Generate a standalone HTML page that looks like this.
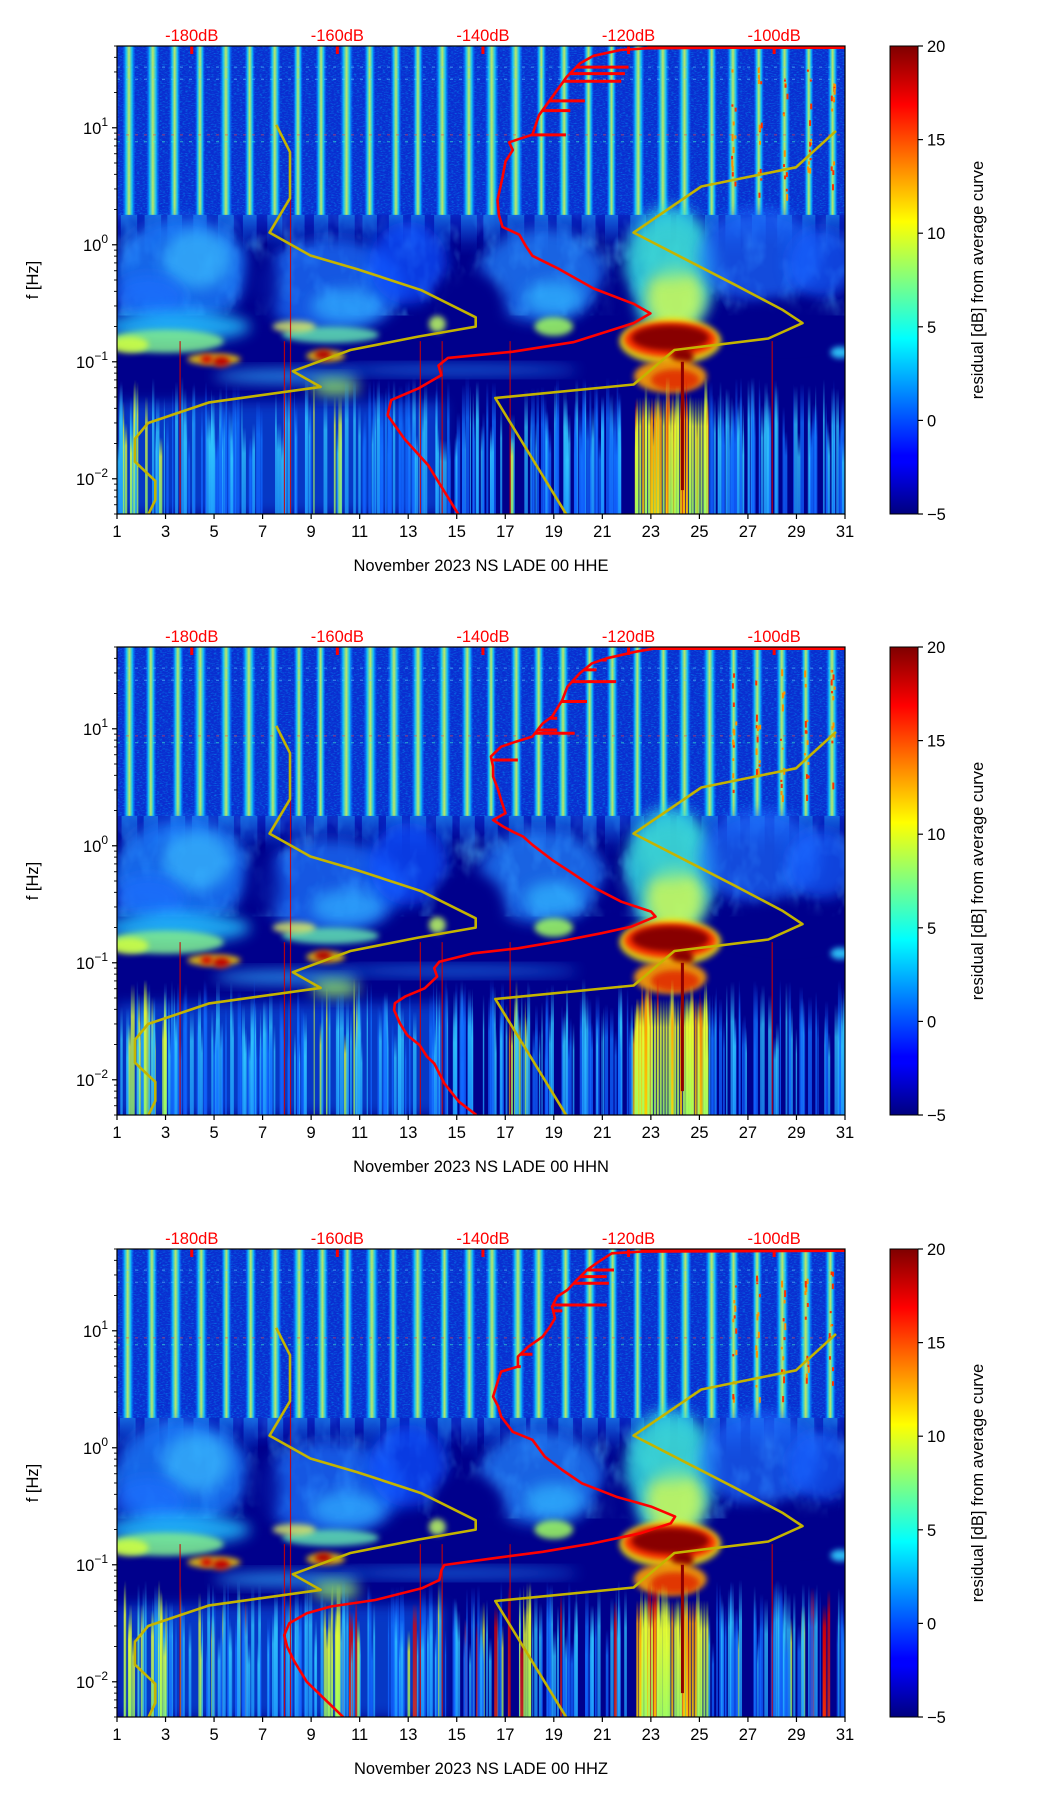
<!DOCTYPE html>
<html><head><meta charset="utf-8"><title>LADE residual spectrograms</title>
<style>
html,body{margin:0;padding:0;background:#fff;}
svg{display:block;font-family:"Liberation Sans","DejaVu Sans",sans-serif;}
</style></head>
<body>
<svg id="fig" width="1052" height="1806" viewBox="0 0 1052 1806" xmlns="http://www.w3.org/2000/svg">
<defs>
  <linearGradient id="jet" x1="0" y1="1" x2="0" y2="0">
    <stop offset="0" stop-color="#00007f"/><stop offset="0.11" stop-color="#0000ff"/>
    <stop offset="0.125" stop-color="#0000ff"/><stop offset="0.375" stop-color="#00ffff"/>
    <stop offset="0.5" stop-color="#80ff80"/><stop offset="0.625" stop-color="#ffff00"/>
    <stop offset="0.875" stop-color="#ff0000"/><stop offset="1" stop-color="#7f0000"/>
  </linearGradient>
  <linearGradient id="stripeG" x1="0" y1="0" x2="1" y2="0">
    <stop offset="0" stop-color="#0060ff" stop-opacity="0.3"/><stop offset="0.25" stop-color="#10d0ff"/>
    <stop offset="0.5" stop-color="#d8ff50"/><stop offset="0.75" stop-color="#10d0ff"/>
    <stop offset="1" stop-color="#0060ff" stop-opacity="0.3"/>
  </linearGradient>
  <linearGradient id="fadeG" x1="0" y1="0" x2="0" y2="1">
    <stop offset="0" stop-color="#20b0ff" stop-opacity="0.85"/><stop offset="1" stop-color="#1060ff" stop-opacity="0"/>
  </linearGradient>
  <linearGradient id="bandFade" x1="0" y1="0" x2="0" y2="1">
    <stop offset="0" stop-color="#0a2ed0" stop-opacity="1"/><stop offset="1" stop-color="#0a2ed0" stop-opacity="0"/>
  </linearGradient>
  <linearGradient id="stkC" x1="0" y1="0" x2="0" y2="1"><stop offset="0" stop-color="#30b0ff" stop-opacity="0"/><stop offset="0.3" stop-color="#30c8ff"/><stop offset="1" stop-color="#20a0ff"/></linearGradient>
  <linearGradient id="stkB" x1="0" y1="0" x2="0" y2="1"><stop offset="0" stop-color="#1060ff" stop-opacity="0"/><stop offset="0.3" stop-color="#1070ff"/><stop offset="1" stop-color="#1060ff"/></linearGradient>
  <linearGradient id="stkY" x1="0" y1="0" x2="0" y2="1"><stop offset="0" stop-color="#c0ff40" stop-opacity="0"/><stop offset="0.25" stop-color="#e8ff30"/><stop offset="1" stop-color="#a0ff60"/></linearGradient>
  <linearGradient id="stkO" x1="0" y1="0" x2="0" y2="1"><stop offset="0" stop-color="#ff9000" stop-opacity="0"/><stop offset="0.2" stop-color="#ffa000"/><stop offset="1" stop-color="#ffd000"/></linearGradient>
  <linearGradient id="stkR" x1="0" y1="0" x2="0" y2="1"><stop offset="0" stop-color="#e00000" stop-opacity="0"/><stop offset="0.2" stop-color="#e00000"/><stop offset="1" stop-color="#ff3000"/></linearGradient>
  <filter id="blur8" x="-50%" y="-50%" width="200%" height="200%"><feGaussianBlur stdDeviation="7"/></filter>
  <filter id="blur3" x="-50%" y="-50%" width="200%" height="200%"><feGaussianBlur stdDeviation="3"/></filter>
  <filter id="noise" x="0" y="0" width="100%" height="100%">
    <feTurbulence type="fractalNoise" baseFrequency="0.35 0.9" numOctaves="2" seed="3"/>
    <feColorMatrix type="matrix" values="0 0 0 0 0  0 0 0 0 0.5  0 0 0 0 1  0 0 0 1.6 -0.75"/>
  </filter>
  <filter id="noise2" x="0" y="0" width="100%" height="100%">
    <feTurbulence type="fractalNoise" baseFrequency="0.05 0.03" numOctaves="3" seed="7"/>
    <feColorMatrix type="matrix" values="0 0 0 0 0.1  0 0 0 0 0.6  0 0 0 0 1  0 0 0 2.2 -1.0"/>
  </filter>
</defs>
</svg>
<script>
// ---------- chart data ----------
const panelTitles = ["November 2023 NS LADE 00 HHE", "November 2023 NS LADE 00 HHN", "November 2023 NS LADE 00 HHZ"];
const dayTicks = [1, 3, 5, 7, 9, 11, 13, 15, 17, 19, 21, 23, 25, 27, 29, 31];
const dbTicks = [-180, -160, -140, -120, -100];
const freqTickExps = [-2, -1, 0, 1];
const cbarTicks = [-5, 0, 5, 10, 15, 20];

const red1DB = [-143.4,-147.5,-150.8,-153.1,-152.6,-148.9,-145.7,-146.1,-144.8,-135.9,-127.6,-119.3,-117.0,-119.3,-124.8,-129.5,-133.2,-134.1,-135.0,-137.3,-137.8,-138.0,-137.3,-136.9,-135.9,-136.4,-133.2,-132.3,-130.4,-128.5,-126.7,-124.8,-121.1,-117.4,-90];
const red1F  = [0.005,0.013,0.022,0.035,0.047,0.059,0.077,0.093,0.108,0.122,0.147,0.214,0.259,0.313,0.423,0.618,0.805,0.973,1.22,1.42,1.78,2.41,3.80,5.15,6.46,7.52,8.75,12.8,18.6,27.2,35.4,41.2,46.2,47.9,49];
const red1SpikeF  = [8.7, 14, 17, 25, 29, 33];
const red1SpikeDB = [-128.6, -128, -126, -121, -120.5, -120];

const red2DB = [-140.9,-143.3,-145.3,-146.7,-147.7,-148.7,-150.4,-151.4,-152.2,-152.1,-150.7,-148.0,-146.3,-146.7,-146.0,-141.3,-135.2,-128.4,-123.7,-119.6,-116.3,-116.9,-121.0,-125.0,-127.7,-130.5,-133.2,-134.5,-135.9,-137.2,-138.6,-136.9,-137.5,-137.9,-138.6,-138.6,-138.9,-137.5,-135.5,-133.2,-131.8,-130.5,-129.1,-128.4,-126.7,-125.0,-123.0,-119.0,-116.3,-90];
const red2F  = [0.005,0.0065,0.0093,0.0138,0.0158,0.0198,0.0241,0.0304,0.0395,0.0451,0.0514,0.0605,0.0762,0.0898,0.102,0.1205,0.133,0.157,0.179,0.204,0.248,0.274,0.333,0.448,0.582,0.757,1.02,1.2,1.32,1.46,1.66,1.9,2.46,3.0,3.9,4.74,5.78,7.03,7.76,8.57,11.1,12.7,17.6,22.9,29.8,36.3,40,45.6,48.7,49.3];
const red2SpikeF  = [9.15, 9.77, 5.41, 12.3, 17.1, 25.3, 31.9, 38.7];
const red2SpikeDB = [-127.4, -129.8, -135.2, -129.8, -125.7, -121.7, -124.4, -123.0];

const red3DB = [-159.2,-164.2,-165.9,-166.9,-167.3,-166.6,-164.2,-160.9,-154.8,-148.4,-146.0,-145.7,-145.3,-138.6,-131.8,-125.0,-118.3,-114.2,-113.6,-116.9,-121.7,-126.4,-129.1,-131.5,-133.2,-135.9,-137.5,-137.9,-138.6,-137.9,-137.5,-135.2,-135.2,-133.8,-131.8,-130.8,-130.1,-130.5,-129.8,-128.4,-127.1,-125.7,-124.4,-122.3,-118.3,-90];
const red3F  = [0.005,0.010,0.0149,0.020,0.025,0.0316,0.0385,0.044,0.050,0.063,0.074,0.090,0.0996,0.1135,0.129,0.152,0.186,0.226,0.258,0.314,0.382,0.497,0.646,0.84,1.17,1.37,1.85,2.25,2.74,3.8,4.48,4.94,6.0,7.3,8.9,10.8,12.8,16.1,19.6,22.3,27.2,33.1,37.8,45.9,47.5,48.4];
const red3SpikeF  = [16.6, 14.8, 6.3, 4.94, 25.5, 33.1, 29.0];
const red3SpikeDB = [-123.0, -129.1, -133.2, -134.8, -122.7, -122.0, -123.0];

const yelADB = [-168.4,-166.5,-166.5,-169.3,-163.7,-157.3,-148.5,-141.0,-141.0,-148.9,-158.2,-166.1,-162.3,-177.6,-186.0,-187.8,-187.8,-185.0,-185.0,-186.0];
const yelAF  = [10.6,6.2,2.5,1.27,0.81,0.62,0.41,0.24,0.20,0.164,0.126,0.083,0.061,0.045,0.030,0.022,0.014,0.0096,0.0066,0.0049];
const yelBDB = [-128.5,-138.3,-119.3,-113.7,-100.8,-96.1,-98.9,-105.4,-119.3,-110.0,-103.5,-97.0,-91.5];
const yelBF  = [0.0049,0.049,0.064,0.126,0.158,0.214,0.279,0.456,1.27,3.15,3.80,4.59,9.4];

const redDBs = [red1DB, red2DB, red3DB];
const redFs = [red1F, red2F, red3F];
const spikeFs = [red1SpikeF, red2SpikeF, red3SpikeF];
const spikeDBs = [red1SpikeDB, red2SpikeDB, red3SpikeDB];

// ---------- layout ----------
const NS = "http://www.w3.org/2000/svg";
const svg = document.getElementById("fig");
const L = 117, R = 845, W = R - L, H = 468;
const tops = [46, 647, 1249];
const FMAX = 50, FMIN = 0.005;
const CBX = 890, CBW = 28;

function xDay(d) { return L + (d - 1) / 30 * W; }
function xDB(db) { return xDay(4.08 + (db + 180) * 0.3); }
function yF(top, f) { return top + (Math.log10(FMAX) - Math.log10(f)) / (Math.log10(FMAX) - Math.log10(FMIN)) * H; }
function mk(tag, attrs, parent) {
  const e = document.createElementNS(NS, tag);
  for (const k in attrs) e.setAttribute(k, attrs[k]);
  (parent || svg).appendChild(e);
  return e;
}
let seed = 12345;
function rnd() { seed |= 0; seed = seed + 0x6D2B79F5 | 0; let t = Math.imul(seed ^ seed >>> 15, 1 | seed); t = t + Math.imul(t ^ t >>> 7, 61 | t) ^ t; return ((t ^ t >>> 14) >>> 0) / 4294967296; }

function blob(g, top, day, f, rxDays, ryDec, color, op, filt) {
  const e = mk("ellipse", { cx: xDay(day), cy: yF(top, f), rx: rxDays * W / 30, ry: ryDec * H / 4, fill: color, opacity: op, filter: filt || "url(#blur8)" }, g);
  
  
}

function drawPanel(p) {
  const top = tops[p];
  seed = 1000 + p * 77;
  const panel = mk("g", {});
  
  
  const cp = mk("clipPath", { id: "clip" + p }, panel);
  mk("rect", { x: L, y: top, width: W, height: H }, cp);
  const g = mk("g", { "clip-path": "url(#clip" + p + ")" }, panel);
  
  

  mk("rect", { x: L, y: top, width: W, height: H, fill: "#00008c" }, g);
  const yHi = yF(top, 1.8);
  // mid textured region
  mk("rect", { x: L, y: yHi, width: W, height: yF(top, 0.25) - yHi, fill: "#000", filter: "url(#noise2)", opacity: 0.55 }, g);
  // upper band
  mk("rect", { x: L, y: top, width: W, height: yHi - top, fill: "#0a2ed0" }, g);
  mk("rect", { x: L, y: yHi, width: W, height: yF(top, 1.0) - yHi, fill: "url(#bandFade)", opacity: 0.8 }, g);
  mk("rect", { x: L, y: top, width: W, height: yHi - top, fill: "#000", filter: "url(#noise)", opacity: 0.7 }, g);
  for (let d = 1; d <= 30; d++) {
    const cx = xDay(d + 0.45 + (rnd() - 0.5) * 0.15);
    const w = 9 + rnd() * 4;
    const s = mk("rect", { x: cx - w / 2, y: top, width: w, height: yHi - top, fill: "url(#stripeG)", opacity: 0.88 }, g);
    
    
    mk("rect", { x: cx - w / 2 - 2, y: yHi, width: w + 4, height: yF(top, 0.8) - yHi, fill: "url(#fadeG)", opacity: 0.55 }, g);
    if (d >= 26 && d <= 30) {
      for (let k = 0; k < 12; k++) mk("rect", { x: cx - 2 + rnd() * 4, y: top + 20 + rnd() * (yHi - top - 40), width: 2, height: 2 + rnd() * 5, fill: rnd() < 0.5 ? "#ff3000" : "#ff9000" }, g);
    }
  }
  [[8.7, "#ff4040"], [7.6, "#40ffd0"], [33, "#60d0ff"], [26, "#60d0ff"]].forEach(([f, c]) => {
    mk("line", { x1: L, x2: R, y1: yF(top, f), y2: yF(top, f), stroke: c, "stroke-width": 1, "stroke-dasharray": "3 6", opacity: 0.6 }, g);
  });
  const mid = mk("g", {}, g);
  blob(mid, top, 3.7, 0.6, 2.8, 0.45, "#1e80ff", 0.8);
  blob(mid, top, 4.3, 0.75, 1.4, 0.25, "#40c8ff", 0.6);
  blob(mid, top, 2.3, 0.35, 1.5, 0.2, "#1a70ff", 0.7);
  blob(mid, top, 9.8, 0.45, 3, 0.4, "#1c74ff", 0.75);
  blob(mid, top, 10.5, 0.3, 1.5, 0.15, "#30b0ff", 0.7);
  blob(mid, top, 13, 0.7, 1.6, 0.35, "#1050ff", 0.75);
  blob(mid, top, 18.5, 0.55, 2.6, 0.4, "#2084ff", 0.75);
  blob(mid, top, 19, 0.35, 1.2, 0.15, "#30b8ff", 0.7);
  blob(mid, top, 23.8, 0.6, 1.9, 0.55, "#30d8e0", 0.85);
  blob(mid, top, 24.0, 0.35, 1.2, 0.28, "#d8ff50", 0.8);
  blob(mid, top, 23.8, 0.9, 1.4, 0.25, "#40d8d0", 0.6);
  blob(mid, top, 27.5, 0.8, 2.5, 0.4, "#1a6cff", 0.7);
  blob(mid, top, 30, 0.7, 1.4, 0.3, "#1860ff", 0.7);
  blob(mid, top, 15.5, 0.3, 1.5, 0.3, "#00008c", 1);
  blob(mid, top, 28.5, 0.22, 2.5, 0.18, "#00008c", 1);
  blob(mid, top, 7, 0.45, 0.7, 0.3, "#00008c", 0.8);
  blob(mid, top, 21.5, 0.3, 0.7, 0.25, "#00008c", 0.9);
  const low = mk("g", {}, g);
  blob(low, top, 3.5, 0.2, 3, 0.13, "#20c0ff", 0.85);
  blob(low, top, 3, 0.15, 2.4, 0.1, "#80f090", 0.85, "url(#blur3)");
  blob(low, top, 1.5, 0.14, 0.8, 0.07, "#d0ff40", 0.85, "url(#blur3)");
  blob(low, top, 5, 0.105, 1.1, 0.05, "#ffd000", 0.85, "url(#blur3)");
  blob(low, top, 4.7, 0.105, 0.25, 0.035, "#d00000", 1, "url(#blur3)");
  blob(low, top, 5.3, 0.1, 0.35, 0.045, "#c00000", 1, "url(#blur3)");
  blob(low, top, 9.8, 0.17, 2.0, 0.07, "#60e0b0", 0.85, "url(#blur3)");
  blob(low, top, 8.3, 0.2, 0.9, 0.05, "#f0ff60", 0.75, "url(#blur3)");
  blob(low, top, 9.6, 0.112, 0.8, 0.05, "#ffd000", 0.85, "url(#blur3)");
  blob(low, top, 9.5, 0.115, 0.35, 0.04, "#b00000", 1, "url(#blur3)");
  blob(low, top, 14.2, 0.21, 0.35, 0.07, "#c0ff60", 0.85, "url(#blur3)");
  blob(low, top, 19, 0.2, 0.8, 0.08, "#a0ff60", 0.85, "url(#blur3)");
  blob(low, top, 15, 0.085, 5, 0.04, "#2090ff", 0.75);
  blob(low, top, 8, 0.075, 3, 0.06, "#30b0ff", 0.75);
  blob(low, top, 10, 0.06, 1, 0.08, "#a0ff60", 0.75);
  blob(low, top, 30.8, 0.12, 0.4, 0.05, "#30d0ff", 0.9, "url(#blur3)");
  blob(low, top, 23.8, 0.15, 2.1, 0.2, "#ffee00", 0.85, "url(#blur3)");
  blob(low, top, 23.8, 0.155, 1.9, 0.15, "#ff3000", 1, "url(#blur3)");
  blob(low, top, 23.8, 0.16, 1.6, 0.11, "#880000", 1, "url(#blur3)");
  blob(low, top, 24.3, 0.11, 0.45, 0.08, "#880000", 1, "url(#blur3)");
  blob(low, top, 23.8, 0.075, 1.5, 0.14, "#ffa000", 0.9, "url(#blur3)");
  blob(low, top, 24.0, 0.07, 1.0, 0.09, "#e02000", 0.8, "url(#blur3)");
  const st = mk("g", {}, g);
  mk("rect", { x: L, y: yF(top, 0.045), width: W * 0.45, height: top + H - yF(top, 0.045), fill: "#1070ff", opacity: 0.5, filter: "url(#blur8)" }, st);
  for (let i = 0; i < 300; i++) {
    const d = 1 + rnd() * 30;
    let grad = "stkB";
    const r = rnd();
    if (d > 22.2 && d < 25.3) grad = r < 0.6 ? "stkY" : (r < 0.88 ? "stkO" : "stkR");
    else if (d < 3 || (d > 9 && d < 11) || (d > 17 && d < 18)) grad = r < 0.5 ? "stkY" : "stkC";
    else grad = r < 0.5 ? "stkC" : "stkB";
    if (p === 2 && rnd() < 0.12) grad = rnd() < 0.5 ? "stkR" : "stkY";
    const ft = 0.06 * (0.35 + rnd() * 0.9);
    const yt = yF(top, ft);
    const s = mk("rect", { x: xDay(d), y: yt, width: 1 + rnd() * 3, height: top + H - yt, fill: "url(#" + grad + ")", opacity: 0.75 }, st);
    
    
  }
  for (let d = 22.4; d < 25.3; d += 0.12) {
    mk("rect", { x: xDay(d), y: yF(top, 0.05), width: 2.2, height: top + H - yF(top, 0.05), fill: "url(#" + (rnd() < 0.65 ? "stkY" : "stkO") + ")", opacity: 0.85 }, st);
  }
  mk("rect", { x: xDay(24.3) - 1.5, y: yF(top, 0.1), width: 3, height: yF(top, 0.008) - yF(top, 0.1), fill: "#900000" }, st);
  [3.6, 7.9, 8.15, 13.5, 14.4, 17.2, 28].forEach(d => {
    mk("line", { x1: xDay(d), x2: xDay(d), y1: yF(top, d === 8.15 ? 3 : 0.15), y2: top + H, stroke: "#d00000", "stroke-width": 1.2, opacity: 0.85 }, st);
  });

  [[yelADB, yelAF, "yellow-curve-a"], [yelBDB, yelBF, "yellow-curve-b"]].forEach(([dbs, fs, nm]) => {
    const pts = dbs.map((v, i) => xDB(v).toFixed(1) + "," + yF(top, fs[i]).toFixed(1)).join(" ");
    const e = mk("polyline", { points: pts, fill: "none", stroke: "#c4b400", "stroke-width": 2.6, "stroke-linejoin": "round" }, g);
    
    
  });
  const rdb = redDBs[p], rf = redFs[p];
  const pts = rdb.map((v, i) => xDB(v).toFixed(1) + "," + yF(top, rf[i]).toFixed(1)).join(" ");
  const rc = mk("polyline", { points: pts, fill: "none", stroke: "#ff0000", "stroke-width": 2.6, "stroke-linejoin": "round" }, g);
  
  
  mk("line", { x1: xDB(rdb[rdb.length - 2]), x2: R, y1: top + 1.5, y2: top + 1.5, stroke: "#ff0000", "stroke-width": 3 }, g);
  spikeFs[p].forEach((f, i) => {
    let base = rdb[0];
    for (let k = 0; k < rf.length - 1; k++) {
      if (f >= rf[k] && f <= rf[k + 1]) { const t = (Math.log(f) - Math.log(rf[k])) / (Math.log(rf[k + 1]) - Math.log(rf[k])); base = rdb[k] + t * (rdb[k + 1] - rdb[k]); break; }
    }
    const sp = mk("line", { x1: xDB(base), x2: xDB(spikeDBs[p][i]), y1: yF(top, f), y2: yF(top, f), stroke: "#ff0000", "stroke-width": 3 }, g);
    
    
  });
  dbTicks.forEach(db => mk("line", { x1: xDB(db), x2: xDB(db), y1: top, y2: top + 8, stroke: "#ff0000", "stroke-width": 3 }, g));

  const fr = mk("rect", { x: L, y: top, width: W, height: H, fill: "none", stroke: "#000", "stroke-width": 1.2 });
  
  

  dbTicks.forEach(db => {
    const t = mk("text", { x: xDB(db), y: top - 5, "text-anchor": "middle", "font-size": 16.5, fill: "#ff0000" });
    t.textContent = db + "dB";
    
    
  });
  dayTicks.forEach(d => {
    mk("line", { x1: xDay(d), x2: xDay(d), y1: top + H, y2: top + H + 5, stroke: "#000", "stroke-width": 1.2 });
    const t = mk("text", { x: xDay(d), y: top + H + 23, "text-anchor": "middle", "font-size": 16.5, fill: "#000" });
    t.textContent = d;
    
    
  });
  const xl = mk("text", { x: (L + R) / 2, y: top + H + 57, "text-anchor": "middle", "font-size": 16.5, fill: "#000" });
  xl.textContent = panelTitles[p];
  
  
  for (let e = -3; e <= 1; e++) {
    for (let m = 1; m <= 9; m++) {
      const f = m * Math.pow(10, e);
      if (f < FMIN - 1e-9 || f > FMAX + 1e-9) continue;
      const y = yF(top, f);
      mk("line", { x1: L, x2: L - (m === 1 ? 5 : 3), y1: y, y2: y, stroke: "#000", "stroke-width": m === 1 ? 1.2 : 0.9 });
    }
  }
  freqTickExps.forEach(ex => {
    const y = yF(top, Math.pow(10, ex));
    const t = mk("text", { x: 108, y: y + 6, "text-anchor": "end", "font-size": 16.5, fill: "#000" });
    
    
    t.appendChild(document.createTextNode("10"));
    const sup = mk("tspan", { dy: -8, "font-size": 12 }, t);
    sup.textContent = ex < 0 ? "\u2212" + (-ex) : String(ex);
  });
  const yl = mk("text", { x: 0, y: 0, transform: "translate(38," + (top + H / 2) + ") rotate(-90)", "text-anchor": "middle", "font-size": 16.5, fill: "#000" });
  yl.textContent = "f [Hz]";
  
  

  const cb = mk("rect", { x: CBX, y: top, width: CBW, height: H, fill: "url(#jet)", stroke: "#000", "stroke-width": 1 });
  
  
  cbarTicks.forEach(v => {
    const y = top + H - (v + 5) / 25 * H;
    mk("line", { x1: CBX + CBW, x2: CBX + CBW + 5, y1: y, y2: y, stroke: "#000", "stroke-width": 1.2 });
    const t = mk("text", { x: CBX + CBW + 9, y: y + 6, "font-size": 16.5, fill: "#000" });
    t.textContent = v < 0 ? "\u2212" + (-v) : String(v);
    
    
  });
  const cl = mk("text", { x: 0, y: 0, transform: "translate(983," + (top + H / 2) + ") rotate(-90)", "text-anchor": "middle", "font-size": 16.5, fill: "#000" });
  cl.textContent = "residual [dB] from average curve";
  
  
}
for (let p = 0; p < 3; p++) drawPanel(p);
</script>
</body></html>
